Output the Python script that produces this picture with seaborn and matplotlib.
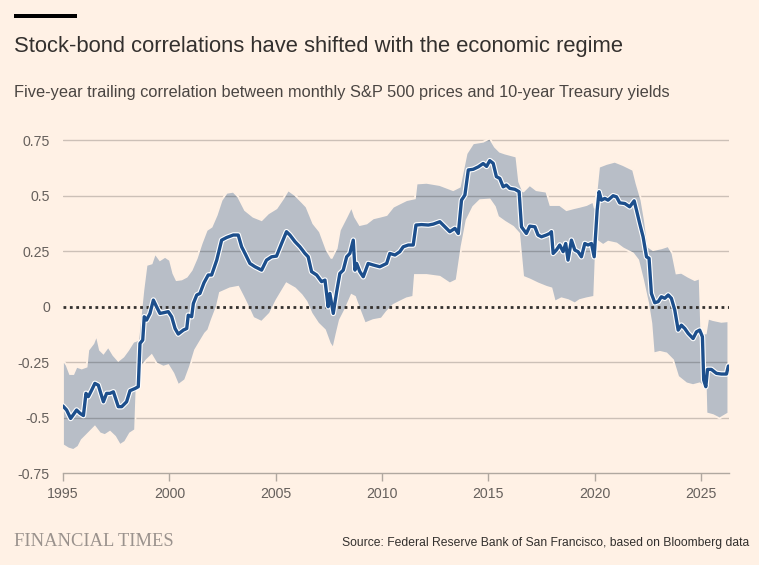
import numpy as np
import pandas as pd
import matplotlib
matplotlib.use("Agg")
import matplotlib.pyplot as plt
import matplotlib.patheffects as pe
from matplotlib.patches import Rectangle
import seaborn as sns

# ---------------- data ----------------
line_years = [1995.00, 1995.17, 1995.36, 1995.64, 1995.80, 1995.96, 1996.08, 1996.19, 1996.35, 1996.50,
              1996.66, 1996.90, 1997.05, 1997.21, 1997.37, 1997.60, 1997.76, 1997.99, 1998.15, 1998.39,
              1998.54, 1998.62, 1998.75, 1998.82, 1998.93, 1999.09, 1999.25, 1999.40, 1999.56, 1999.72,
              1999.95, 2000.11, 2000.27, 2000.42, 2000.66, 2000.82, 2000.89, 2001.05, 2001.13, 2001.29,
              2001.44, 2001.63, 2001.83, 2001.99, 2002.23, 2002.38, 2002.46, 2002.70, 2003.01, 2003.24,
              2003.40, 2003.56, 2003.79, 2004.03, 2004.34, 2004.57, 2004.81, 2005.04, 2005.28, 2005.51,
              2005.67, 2005.91, 2006.14, 2006.38, 2006.53, 2006.69, 2006.93, 2007.16, 2007.32, 2007.47,
              2007.55, 2007.71, 2007.87, 2008.02, 2008.18, 2008.34, 2008.49, 2008.65, 2008.73, 2008.81,
              2008.96, 2009.12, 2009.35, 2009.59, 2009.90, 2010.22, 2010.37, 2010.61, 2010.84, 2011.00,
              2011.24, 2011.47, 2011.60, 2011.86, 2012.18, 2012.41, 2012.72, 2012.96, 2013.19, 2013.43,
              2013.59, 2013.74, 2013.90, 2014.06, 2014.29, 2014.53, 2014.76, 2014.92, 2015.07, 2015.23,
              2015.38, 2015.54, 2015.70, 2015.85, 2016.01, 2016.25, 2016.45, 2016.56, 2016.79, 2016.95,
              2017.19, 2017.34, 2017.50, 2017.73, 2017.89, 2017.97, 2018.05, 2018.20, 2018.36, 2018.52,
              2018.64, 2018.75, 2018.91, 2019.07, 2019.22, 2019.38, 2019.54, 2019.69, 2019.85, 2019.98,
              2020.05, 2020.12, 2020.21, 2020.32, 2020.48, 2020.63, 2020.87, 2021.03, 2021.18, 2021.42,
              2021.65, 2021.86, 2021.97, 2022.12, 2022.28, 2022.44, 2022.56, 2022.67, 2022.83, 2022.99,
              2023.14, 2023.30, 2023.46, 2023.61, 2023.77, 2023.93, 2024.08, 2024.24, 2024.40, 2024.63,
              2024.79, 2024.94, 2025.07, 2025.13, 2025.23, 2025.31, 2025.49, 2025.73, 2025.96, 2026.20,
              2026.29]
line_values = [-0.447, -0.465, -0.503, -0.465, -0.480, -0.490, -0.390, -0.405, -0.375, -0.345,
               -0.353, -0.428, -0.390, -0.390, -0.383, -0.450, -0.450, -0.428, -0.378, -0.368,
               -0.360, -0.165, -0.150, -0.045, -0.060, -0.030, 0.030, 0.000, -0.030, -0.027,
               -0.022, -0.045, -0.098, -0.123, -0.105, -0.098, -0.038, -0.045, 0.015, 0.053,
               0.060, 0.108, 0.143, 0.143, 0.210, 0.270, 0.300, 0.312, 0.323, 0.323,
               0.270, 0.240, 0.195, 0.180, 0.165, 0.210, 0.225, 0.228, 0.285, 0.338,
               0.323, 0.293, 0.270, 0.240, 0.225, 0.158, 0.143, 0.113, 0.120, 0.000,
               0.060, -0.030, 0.068, 0.150, 0.165, 0.225, 0.240, 0.300, 0.165, 0.195,
               0.158, 0.135, 0.195, 0.188, 0.180, 0.195, 0.240, 0.233, 0.248, 0.270,
               0.278, 0.278, 0.368, 0.370, 0.368, 0.372, 0.383, 0.360, 0.338, 0.353,
               0.330, 0.480, 0.503, 0.616, 0.619, 0.630, 0.645, 0.632, 0.658, 0.646,
               0.586, 0.578, 0.540, 0.548, 0.533, 0.529, 0.518, 0.360, 0.330, 0.363,
               0.360, 0.323, 0.315, 0.323, 0.330, 0.338, 0.240, 0.255, 0.278, 0.248,
               0.285, 0.210, 0.300, 0.255, 0.248, 0.225, 0.285, 0.278, 0.285, 0.225,
               0.330, 0.435, 0.518, 0.480, 0.488, 0.480, 0.500, 0.495, 0.468, 0.465,
               0.450, 0.477, 0.435, 0.375, 0.315, 0.225, 0.218, 0.060, 0.018, 0.023,
               0.045, 0.038, 0.053, 0.038, -0.015, -0.105, -0.083, -0.098, -0.120, -0.143,
               -0.113, -0.105, -0.135, -0.330, -0.360, -0.282, -0.282, -0.300, -0.303, -0.303,
               -0.267]

upper_years = [1995.00, 1995.17, 1995.33, 1995.49, 1995.64, 1995.88, 1996.11, 1996.19, 1996.43, 1996.58,
               1996.74, 1996.90, 1997.13, 1997.37, 1997.60, 1997.84, 1998.07, 1998.31, 1998.54, 1998.78,
               1998.93, 1999.17, 1999.33, 1999.56, 1999.80, 2000.03, 2000.19, 2000.34, 2000.58, 2000.82,
               2001.05, 2001.29, 2001.52, 2001.76, 2001.99, 2002.23, 2002.46, 2002.70, 2003.01, 2003.24,
               2003.56, 2003.95, 2004.34, 2004.65, 2005.04, 2005.36, 2005.59, 2005.91, 2006.22, 2006.45,
               2006.77, 2007.08, 2007.40, 2007.63, 2007.87, 2008.02, 2008.34, 2008.57, 2008.73, 2008.96,
               2009.28, 2009.59, 2009.90, 2010.22, 2010.53, 2010.84, 2011.16, 2011.55, 2011.63, 2012.10,
               2012.72, 2013.35, 2013.66, 2013.98, 2014.29, 2014.76, 2015.07, 2015.31, 2015.54, 2015.78,
               2016.32, 2016.45, 2016.64, 2016.95, 2017.26, 2017.73, 2017.92, 2018.36, 2018.68, 2018.99,
               2019.30, 2019.62, 2019.93, 2020.01, 2020.21, 2020.56, 2020.95, 2021.34, 2021.81, 2021.97,
               2022.20, 2022.36, 2022.52, 2022.75, 2023.14, 2023.46, 2023.66, 2023.85, 2024.08, 2024.40,
               2024.71, 2024.94, 2025.02, 2025.23, 2025.34, 2025.57, 2025.96, 2026.29]
upper_values = [-0.240, -0.263, -0.303, -0.303, -0.270, -0.278, -0.270, -0.195, -0.165, -0.128,
                -0.195, -0.210, -0.180, -0.218, -0.243, -0.225, -0.195, -0.158, -0.150, 0.075,
                0.188, 0.195, 0.240, 0.210, 0.225, 0.210, 0.150, 0.120, 0.123, 0.135,
                0.165, 0.218, 0.285, 0.345, 0.360, 0.413, 0.480, 0.513, 0.518, 0.495,
                0.435, 0.405, 0.390, 0.420, 0.443, 0.488, 0.525, 0.503, 0.473, 0.450,
                0.375, 0.338, 0.255, 0.218, 0.263, 0.345, 0.405, 0.450, 0.405, 0.368,
                0.375, 0.398, 0.405, 0.413, 0.450, 0.465, 0.480, 0.488, 0.555, 0.558,
                0.548, 0.525, 0.540, 0.690, 0.736, 0.743, 0.758, 0.720, 0.698, 0.690,
                0.676, 0.563, 0.518, 0.548, 0.525, 0.518, 0.458, 0.458, 0.435, 0.443,
                0.450, 0.458, 0.473, 0.443, 0.630, 0.643, 0.653, 0.638, 0.616, 0.555,
                0.480, 0.390, 0.270, 0.255, 0.263, 0.273, 0.240, 0.150, 0.153, 0.135,
                0.120, 0.128, -0.120, -0.120, -0.053, -0.060, -0.068, -0.065]

lower_years = [1995.00, 1995.25, 1995.49, 1995.72, 1995.88, 1996.11, 1996.50, 1996.74, 1996.97, 1997.21,
               1997.45, 1997.68, 1997.92, 1998.15, 1998.39, 1998.46, 1998.62, 1998.93, 1999.17, 1999.40,
               1999.72, 1999.95, 2000.19, 2000.42, 2000.74, 2000.97, 2001.21, 2001.44, 2001.68, 2001.83,
               2001.99, 2002.23, 2002.38, 2002.85, 2003.24, 2003.48, 2003.71, 2003.95, 2004.34, 2004.73,
               2005.04, 2005.51, 2005.91, 2006.22, 2006.45, 2006.69, 2007.00, 2007.32, 2007.55, 2007.71,
               2007.87, 2008.02, 2008.26, 2008.57, 2008.73, 2008.96, 2009.20, 2009.59, 2009.98, 2010.22,
               2010.53, 2010.84, 2011.16, 2011.47, 2011.55, 2012.10, 2012.72, 2013.19, 2013.51, 2013.74,
               2013.98, 2014.29, 2014.61, 2015.07, 2015.31, 2015.46, 2015.78, 2016.17, 2016.45, 2016.64,
               2016.95, 2017.34, 2017.73, 2017.97, 2018.13, 2018.44, 2018.75, 2019.07, 2019.30, 2019.62,
               2019.98, 2020.08, 2020.40, 2020.64, 2021.03, 2021.34, 2021.81, 2022.05, 2022.28, 2022.52,
               2022.67, 2022.78, 2023.07, 2023.38, 2023.69, 2023.93, 2024.32, 2024.63, 2024.94, 2025.23,
               2025.26, 2025.57, 2025.88, 2026.29]
lower_values = [-0.623, -0.638, -0.645, -0.630, -0.600, -0.578, -0.540, -0.570, -0.578, -0.563,
                -0.585, -0.623, -0.608, -0.570, -0.555, -0.360, -0.278, -0.240, -0.218, -0.255,
                -0.270, -0.263, -0.300, -0.353, -0.330, -0.270, -0.195, -0.158, -0.120, -0.105,
                -0.060, 0.000, 0.063, 0.083, 0.090, 0.045, 0.000, -0.050, -0.068, -0.030,
                0.030, 0.105, 0.083, 0.053, 0.023, -0.030, -0.075, -0.105, -0.165, -0.188,
                -0.120, -0.060, -0.015, 0.053, 0.045, -0.015, -0.075, -0.060, -0.053, -0.023,
                0.008, 0.023, 0.038, 0.045, 0.143, 0.143, 0.135, 0.105, 0.120, 0.270,
                0.390, 0.450, 0.480, 0.483, 0.450, 0.405, 0.383, 0.360, 0.330, 0.135,
                0.123, 0.105, 0.090, 0.083, 0.023, 0.038, 0.030, 0.015, 0.030, 0.038,
                0.045, 0.300, 0.278, 0.293, 0.285, 0.263, 0.240, 0.210, 0.120, 0.015,
                -0.075, -0.210, -0.203, -0.210, -0.240, -0.315, -0.345, -0.353, -0.345, -0.368,
                -0.480, -0.488, -0.503, -0.480]

x_ticks = [1995, 2000, 2005, 2010, 2015, 2020, 2025]
y_ticks = [-0.75, -0.5, -0.25, 0, 0.25, 0.5, 0.75]
y_tick_labels = ["-0.75", "-0.5", "-0.25", "0", "0.25", "0.5", "0.75"]

title = "Stock-bond correlations have shifted with the economic regime"
subtitle = "Five-year trailing correlation between monthly S&P 500 prices and 10-year Treasury yields"
source = "Source: Federal Reserve Bank of San Francisco, based on Bloomberg data"
brand = "FINANCIAL TIMES"

# ---------------- style ----------------
BG = "#fff1e5"
TEXT = "#33302e"
MUTED = "#66605c"
BAND = "#b8bec7"
LINE = "#1d4f8c"

sns.set_theme(style="white")
plt.rcParams["font.family"] = ["Liberation Sans", "DejaVu Sans"]

W, H = 759, 565
fig = plt.figure(figsize=(W / 100, H / 100), dpi=100, facecolor=BG)

y_top_val = 0.78
ax_left, ax_right = 63, 729
ax_bottom_px, ax_top_px = 473.3, 306.7 - 222 * y_top_val
ax = fig.add_axes([ax_left / W, (H - ax_bottom_px) / H,
                   (ax_right - ax_left) / W, (ax_bottom_px - ax_top_px) / H])
ax.set_facecolor(BG)

# band
band_x = np.concatenate([upper_years, lower_years[::-1]])
band_y = np.concatenate([upper_values, lower_values[::-1]])
ax.fill(band_x, band_y, color=BAND, lw=0, zorder=1)

# gridlines
for yv in y_ticks[1:]:
    if yv == 0:
        continue
    ax.axhline(yv, color="black", alpha=0.2, lw=1, zorder=2)
# thin background-coloured edge round the band (breaks the gridlines at its rim)
ax.fill(band_x, band_y, facecolor="none", edgecolor=BG, lw=1.3, zorder=2.5)
ax.axhline(0, color=TEXT, lw=2, ls=(0, (1, 1.3)), zorder=3)

# median line
df = pd.DataFrame({"year": line_years, "corr": line_values})
sns.lineplot(data=df, x="year", y="corr", ax=ax, color=LINE, lw=2.4,
             estimator=None, sort=False, zorder=5,
             path_effects=[pe.Stroke(linewidth=4.0, foreground="white"), pe.Normal()])

ax.set_xlim(1995, 2026.32)
ax.set_ylim(-0.75, y_top_val)
ax.set_xlabel("")
ax.set_ylabel("")
ax.set_xticks(x_ticks)
ax.set_xticklabels([str(t) for t in x_ticks])
ax.set_yticks(y_ticks)
ax.set_yticklabels(y_tick_labels)
for s in ["top", "right", "left"]:
    ax.spines[s].set_visible(False)
ax.spines["bottom"].set_color("#b0a8a0")
ax.spines["bottom"].set_linewidth(1)
ax.spines["bottom"].set_zorder(6)
ax.tick_params(axis="x", length=6, width=1, color="#b0a8a0", pad=4,
               labelsize=10.2, labelcolor=MUTED, bottom=True)
ax.tick_params(axis="y", length=0, pad=9.5, labelsize=10.2, labelcolor=MUTED)

# header / footer
fig.add_artist(Rectangle((14 / W, 1 - 18 / H), 63 / W, 4 / H, transform=fig.transFigure,
                         color="black", lw=0))
fig.text(14 / W, 1 - 52 / H, title, fontsize=15.8, color=TEXT, va="baseline", ha="left")
fig.text(14 / W, 1 - 97 / H, subtitle, fontsize=11.8, color="#4a4542", va="baseline", ha="left")
fig.text(14 / W, 1 - 546 / H, brand, fontsize=13.3, color="#9a928d", va="baseline", ha="left",
         family=["Liberation Serif", "DejaVu Serif"])
fig.text(749 / W, 1 - 546 / H, source, fontsize=8.75, color=TEXT, va="baseline", ha="right")

fig.savefig("out.png", dpi=100, facecolor=BG)
